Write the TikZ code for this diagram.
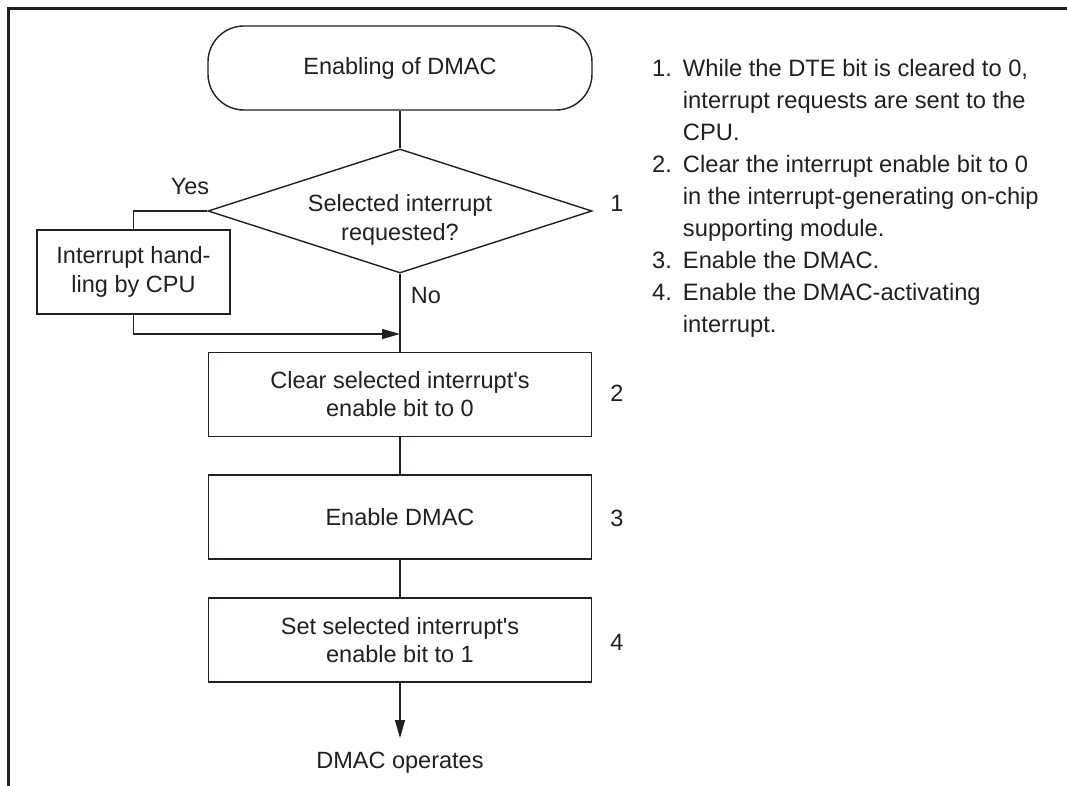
\documentclass[tikz,border=0pt]{standalone}
\usepackage{fontspec}
\setmainfont{Liberation Sans}
\usetikzlibrary{arrows.meta, positioning, shapes.geometric}
\definecolor{inkDark}{HTML}{231F20}

\begin{document}
\begin{tikzpicture}[x=1pt, y=-1pt,
  every node/.style={font=\fontsize{23.5}{28}\selectfont, text=inkDark},
  startbox/.style={draw=inkDark, rounded corners=36pt, line width=1.4pt,
                   minimum width=384pt, minimum height=84pt, inner sep=0pt, align=center},
  procbox/.style={draw=inkDark, rectangle, line width=1.4pt,
                  minimum width=383pt, minimum height=84pt, inner sep=0pt, align=center},
  decision/.style={draw=inkDark, diamond, line width=1.4pt,
                   minimum width=384pt, minimum height=124pt, inner sep=0pt},
  conn/.style={draw=inkDark, line width=1.2pt},
  arr/.style={conn, -{Triangle[length=18pt, width=10pt]}},
  stepnum/.style={inner sep=0pt},
]
  \useasboundingbox (0,0) rectangle (1067,786);
  % page frame (only top and left edges show)
  \draw[inkDark, line width=3pt] (1067,9) -| (8,786);

  \node[startbox] (start) at (400,68) {Enabling of DMAC};

  \node[decision] (dec) at (400,211)
    [label={[yshift=-9pt, align=center, font=\fontsize{23.5}{29}\selectfont]center:Selected interrupt\\requested?}] {};

  \node[procbox, minimum width=193pt, font=\fontsize{23.5}{29}\selectfont] (cpu) at (133.5,272)
    {Interrupt hand-\\ling by CPU};

  \node[procbox] (clear) at (400,394.5) {Clear selected interrupt\textquotesingle s\\enable bit to 0};
  \node[procbox] (enable) at (400,517) {Enable DMAC};
  \node[procbox] (set) at (400,640) {Set selected interrupt\textquotesingle s\\enable bit to 1};

  \node[anchor=north, inner xsep=0pt, inner ysep=14pt] (done) at (400,738) {DMAC operates};
  \coordinate (join) at (400,334);

  % labels
  \node[inner sep=0pt] (yes) at (190,187) {Yes};
  \node[inner sep=0pt] (no) at (426,296) {No};
  \node[stepnum] (n1) at (617,203) {1};
  \node[stepnum] (n2) at (617,393) {2};
  \node[stepnum] (n3) at (617,518) {3};
  \node[stepnum] (n4) at (617,642) {4};

  % connectors
  \draw[conn] (start) -- (dec);
  \draw[conn] (dec) -- (clear);
  \draw[conn] (dec.west) -| (cpu.north);
  \draw[arr] (cpu.south) |- (join);
  \draw[conn] (clear) -- (enable);
  \draw[conn] (enable) -- (set);
  \draw[arr] (set) -- (done);

  % notes
  \node[anchor=north west, inner sep=0pt, font=\fontsize{23.7}{32}\selectfont] (notes) at (652,54)
    {\begin{tabular}{@{}l@{\hspace{11pt}}l@{}}
     1. & While the DTE bit is cleared to 0,\\
        & interrupt requests are sent to the\\
        & CPU.\\
     2. & Clear the interrupt enable bit to 0\\
        & in the interrupt-generating on-chip\\
        & supporting module.\\
     3. & Enable the DMAC.\\
     4. & Enable the DMAC-activating\\
        & interrupt.
     \end{tabular}};
\end{tikzpicture}
\end{document}
